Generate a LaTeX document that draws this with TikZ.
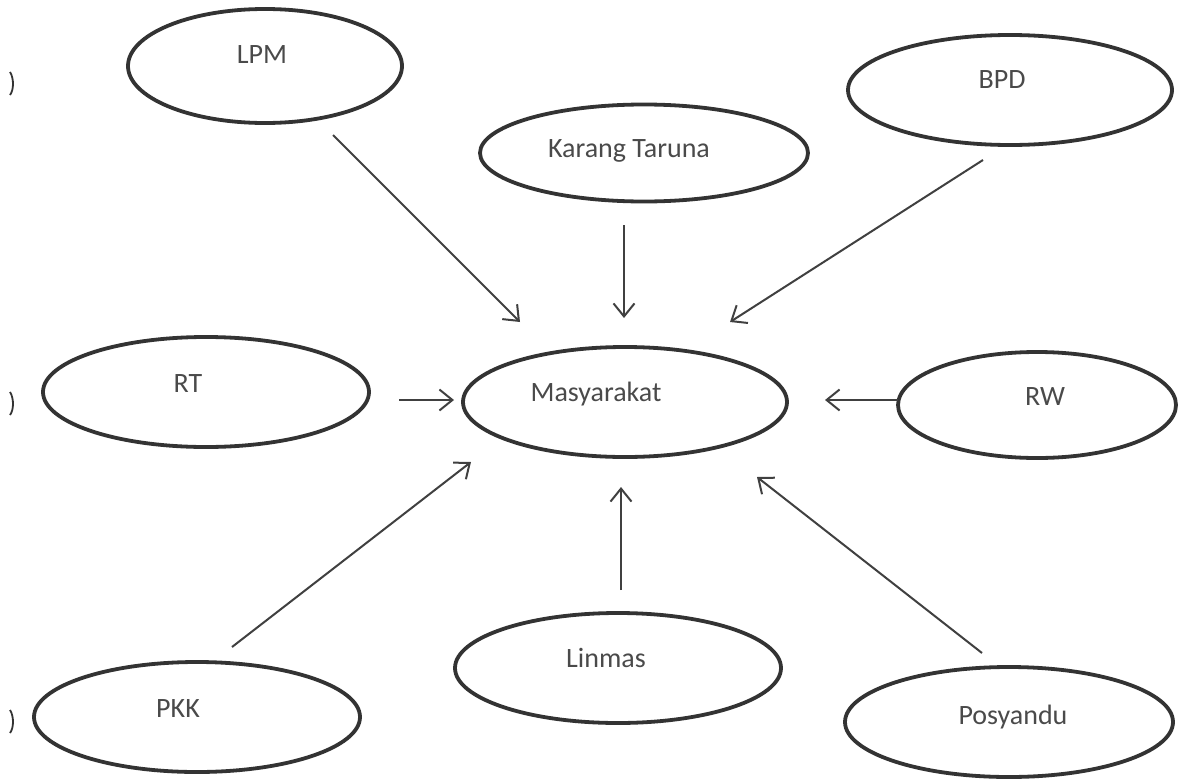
\documentclass[tikz,border=0pt]{standalone}
\usepackage{fontspec}
\setmainfont{Carlito}
\usetikzlibrary{arrows.meta,shapes.geometric}
\definecolor{inkline}{HTML}{333333}
\definecolor{inkarrow}{HTML}{404040}
\definecolor{inktext}{HTML}{4A4A4A}
\tikzset{
  oval/.style={ellipse, draw=inkline, line width=3.8pt, inner sep=0pt},
  lbl/.style={anchor=base, text=inktext, font=\fontsize{28}{32}\selectfont, inner sep=0pt},
  conn/.style={draw=inkarrow, line width=2pt, -{Straight Barb[length=13pt,width=21pt,line width=2pt]}},
  scanmark/.style={draw=inkline, line width=1.8pt}
}
\begin{document}
\begin{tikzpicture}[x=1pt,y=-1pt]
\useasboundingbox (0,0) rectangle (1178,779);
% ellipses
\node[oval, minimum width=274pt, minimum height=114pt] (lpm) at (265,66) {};
\node[oval, minimum width=328pt, minimum height=97pt] (kt) at (644,153) {};
\node[oval, minimum width=324pt, minimum height=110pt] (bpd) at (1010,90) {};
\node[oval, minimum width=326pt, minimum height=110pt] (rt) at (206,392) {};
\node[oval, minimum width=324pt, minimum height=110pt] (mas) at (625,402) {};
\node[oval, minimum width=278pt, minimum height=106pt] (rw) at (1037,405) {};
\node[oval, minimum width=326pt, minimum height=110pt] (pkk) at (197,717) {};
\node[oval, minimum width=326pt, minimum height=110pt] (lin) at (618,668) {};
\node[oval, minimum width=328pt, minimum height=110pt] (pos) at (1009,722) {};
% labels
\node[lbl] (tlpm) at (262,63) {LPM};
\node[lbl] (tkt) at (629,157) {Karang Taruna};
\node[lbl] (tbpd) at (1002,88) {BPD};
\node[lbl] (trt) at (188,392) {RT};
\node[lbl] (tmas) at (596,401) {Masyarakat};
\node[lbl] (trw) at (1045,405) {RW};
\node[lbl] (tpkk) at (178,717) {PKK};
\node[lbl] (tlin) at (606,667) {Linmas};
\node[lbl] (tpos) at (1013,724) {Posyandu};
% connector ends
\coordinate (lpm-s) at (333,135);
\coordinate (lpm-e) at (520,322);
\coordinate (kt-s) at (624,225);
\coordinate (kt-e) at (624,318);
\coordinate (bpd-s) at (983,160);
\coordinate (bpd-e) at (730,322);
\coordinate (rt-s) at (399,400);
\coordinate (rt-e) at (454,400);
\coordinate (rw-s) at (898,400);
\coordinate (rw-e) at (825,400);
\coordinate (pkk-s) at (232,647);
\coordinate (pkk-e) at (471,462);
\coordinate (lin-s) at (621,590);
\coordinate (lin-e) at (621,487);
\coordinate (pos-s) at (982,653);
\coordinate (pos-e) at (757,477);
% connectors
\draw[conn] (lpm-s) -- (lpm-e);
\draw[conn] (kt-s) -- (kt-e);
\draw[conn] (bpd-s) -- (bpd-e);
\draw[conn] (rt-s) -- (rt-e);
\draw[conn] (rw-s) -- (rw-e);
\draw[conn] (pkk-s) -- (pkk-e);
\draw[conn] (lin-s) -- (lin-e);
\draw[conn] (pos-s) -- (pos-e);
% scan marks at left edge
\draw[scanmark] (10,72) .. controls (14,78) and (14,90) .. (10,95);
\draw[scanmark] (10,392) .. controls (14,398) and (14,410) .. (10,415);
\draw[scanmark] (10,710) .. controls (14,716) and (14,728) .. (10,733);
\end{tikzpicture}
\end{document}
